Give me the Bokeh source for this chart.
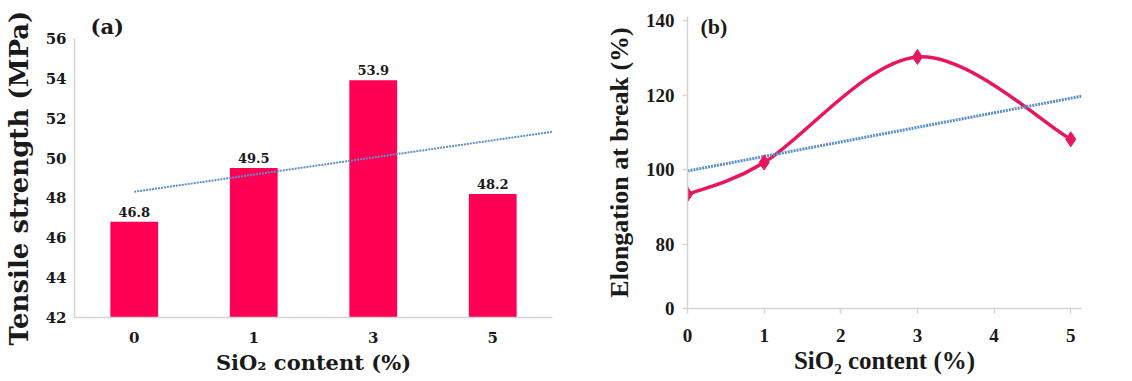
import numpy as np
from bokeh.plotting import figure
from bokeh.layouts import row
from bokeh.models import Range1d, FixedTicker, Label, ColumnDataSource
from bokeh.embed import file_html
from bokeh.resources import INLINE
from bokeh.core.properties import value

# ---------------- data ----------------
sio2_categories = ["0", "1", "3", "5"]
tensile_strength = [46.8, 49.5, 53.9, 48.2]
tensile_labels = ["46.8", "49.5", "53.9", "48.2"]
tensile_ticks = [42, 44, 46, 48, 50, 52, 54, 56]

sio2_content = [0, 1, 3, 5]
elongation = [93.5, 102.0, 130.2, 108.2]
elong_ticks = [80, 100, 120, 140]
elong_axis_floor = 63          # broken axis: bottom labelled "0"
sio2_ticks = [0, 1, 2, 3, 4, 5]

FONT_A = "DejaVu Serif"
FONT_B = "Liberation Serif"
BAR_COLOR = "#FF0055"
LINE_COLOR = "#E8175D"
TREND_COLOR = "#5B8FC8"
AXIS_COLOR = "#D4D4D4"
TEXT_COLOR = "#1A1A1A"


def style_axes(p, font, tick_size, label_size_x, label_size_y):
    for ax in (p.xaxis[0], p.yaxis[0]):
        ax.axis_line_color = AXIS_COLOR
        ax.axis_line_width = 1.5
        ax.minor_tick_line_color = None
        ax.major_label_text_font = font
        ax.major_label_text_font_style = "bold"
        ax.major_label_text_color = TEXT_COLOR
        ax.major_label_text_font_size = f"{tick_size}px"
        ax.axis_label_text_font = font
        ax.axis_label_text_font_style = "bold"
        ax.axis_label_text_color = TEXT_COLOR
    p.xaxis[0].axis_label_text_font_size = f"{label_size_x}px"
    p.yaxis[0].axis_label_text_font_size = f"{label_size_y}px"
    p.xgrid.grid_line_color = None
    p.ygrid.grid_line_color = None
    p.outline_line_color = None


# ---------------- (a) tensile strength ----------------
xa = list(range(1, len(sio2_categories) + 1))
pa = figure(frame_width=478, frame_height=279, output_backend="svg",
            toolbar_location=None, frame_align=False,
            x_range=Range1d(0.5, len(xa) + 0.5),
            y_range=Range1d(tensile_ticks[0], tensile_ticks[-1]),
            min_border_left=66, min_border_right=8, min_border_top=38,
            min_border_bottom=56)
pa.vbar(x=xa, top=tensile_strength, bottom=tensile_ticks[0], width=0.4,
        fill_color=BAR_COLOR, line_color=None)

ca = np.polyfit(xa, tensile_strength, 1)
xa_tr = np.array([xa[0], len(xa) + 0.5])
pa.line(xa_tr, np.polyval(ca, xa_tr), line_color=TREND_COLOR, line_width=2,
        line_dash="2 1")

src_a = ColumnDataSource(dict(x=xa, y=tensile_strength, t=tensile_labels))
pa.text(x="x", y="y", text="t", source=src_a, text_align="center",
        text_baseline="bottom", y_offset=-5, text_font=value(FONT_A),
        text_font_style="bold", text_font_size="13px", text_color=TEXT_COLOR)

pa.xaxis[0].ticker = FixedTicker(ticks=xa)
pa.xaxis[0].major_label_overrides = {i: c for i, c in zip(xa, sio2_categories)}
pa.yaxis[0].ticker = FixedTicker(ticks=tensile_ticks)
pa.xaxis[0].axis_label = "SiO\u2082 content (%)"
pa.yaxis[0].axis_label = "Tensile strength (MPa)"
style_axes(pa, FONT_A, 15, 21, 26)
for ax in (pa.xaxis[0], pa.yaxis[0]):
    ax.major_tick_line_color = None
    ax.major_tick_in = 0
    ax.major_tick_out = 0
pa.xaxis[0].major_label_standoff = 14
pa.yaxis[0].major_label_standoff = 8
pa.yaxis[0].axis_label_standoff = 9
pa.xaxis[0].axis_label_standoff = 4
pa.title.text = "(a)"
pa.title.text_font = FONT_A
pa.title.text_font_style = "bold"
pa.title.text_font_size = "21px"
pa.title.text_color = TEXT_COLOR
pa.title.align = "left"
pa.title.offset = 16
pa.title.standoff = 0

# ---------------- (b) elongation at break ----------------
pb = figure(frame_width=394, frame_height=292, output_backend="svg",
            toolbar_location=None, frame_align=False,
            x_range=Range1d(0, 5.14), y_range=Range1d(elong_axis_floor, 141),
            min_border_left=127, min_border_right=43, min_border_top=16,
            min_border_bottom=65)

# smoothed curve (Excel-style cardinal spline via Bezier segments)
px = np.array(sio2_content, dtype=float)
py = np.array(elongation, dtype=float)
n = len(px)
ext_x = np.concatenate([[px[0]], px, [px[-1]]])
ext_y = np.concatenate([[py[0]], py, [py[-1]]])
k = 1.0 / 6.0
cx0 = px[:-1] + k * (ext_x[2:n + 1] - ext_x[0:n - 1])
cy0 = py[:-1] + k * (ext_y[2:n + 1] - ext_y[0:n - 1])
cx1 = px[1:] - k * (ext_x[3:n + 2] - ext_x[1:n])
cy1 = py[1:] - k * (ext_y[3:n + 2] - ext_y[1:n])
pb.bezier(x0=px[:-1], y0=py[:-1], x1=px[1:], y1=py[1:],
          cx0=cx0, cy0=cy0, cx1=cx1, cy1=cy1,
          line_color=LINE_COLOR, line_width=3.5)

cb = np.polyfit(px, py, 1)
xb_tr = np.array([0, 5.14])
pb.line(xb_tr, np.polyval(cb, xb_tr), line_color=TREND_COLOR, line_width=3,
        line_dash="2 1")

pb.scatter(px, py, marker="diamond", size=15, fill_color=LINE_COLOR,
           line_color=LINE_COLOR)

pb.xaxis[0].ticker = FixedTicker(ticks=sio2_ticks)
pb.yaxis[0].ticker = FixedTicker(ticks=[elong_axis_floor] + elong_ticks)
pb.yaxis[0].major_label_overrides = {elong_axis_floor: "0"}
pb.xaxis[0].axis_label = "SiO\u2082 content (%)"
pb.yaxis[0].axis_label = "Elongation at break (%)"
style_axes(pb, FONT_B, 19, 25, 26)
for ax in (pb.xaxis[0], pb.yaxis[0]):
    ax.major_tick_line_color = AXIS_COLOR
    ax.major_tick_line_width = 1.5
    ax.major_tick_in = 0
    ax.major_tick_out = 5
pb.xaxis[0].major_label_standoff = 15
pb.yaxis[0].major_label_standoff = 8
pb.yaxis[0].axis_label_standoff = 9
pb.xaxis[0].axis_label_standoff = 2
pb.add_layout(Label(x=0.17, y=138.4, text="(b)", text_font=FONT_B,
                    text_font_style="bold", text_font_size="22px",
                    text_baseline="middle", text_color=TEXT_COLOR))

layout = row(pa, pb)
open("out.html", "w").write(file_html(layout, INLINE))
